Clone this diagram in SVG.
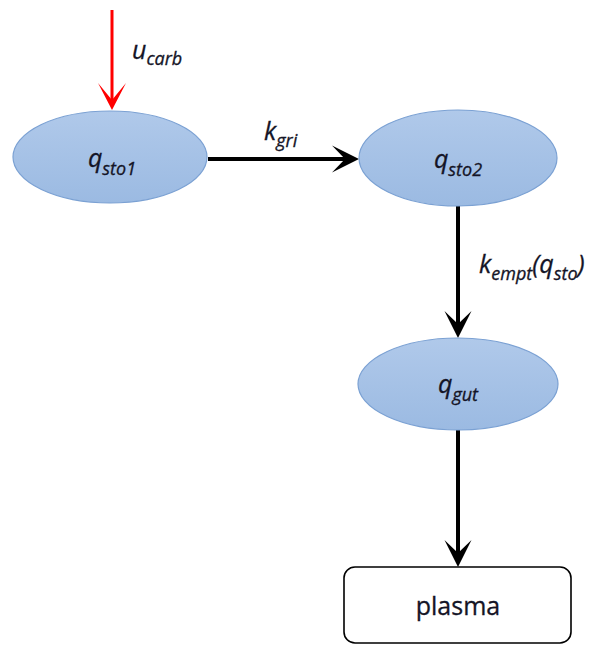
<svg xmlns="http://www.w3.org/2000/svg" width="598" height="646" viewBox="0 0 598 646">
  <defs>
    <linearGradient id="blueFill" x1="0" y1="0" x2="0" y2="1">
      <stop offset="0" stop-color="#b0c9ea"/>
      <stop offset="1" stop-color="#9bbae2"/>
    </linearGradient>
    <!-- notched arrowheads; the line ends at the notch -->
    <marker id="headBlack" markerUnits="userSpaceOnUse" viewBox="-28 -15 30 30" markerWidth="30" markerHeight="30" refX="-14" refY="0" orient="auto" overflow="visible">
      <path d="M0,0 L-27,-13.5 L-14,0 L-27,13.5 Z" fill="#000"/>
    </marker>
    <marker id="headRed" markerUnits="userSpaceOnUse" viewBox="-28 -15 30 30" markerWidth="30" markerHeight="30" refX="-10" refY="0" orient="auto" overflow="visible">
      <path d="M0,0 L-27,-14 L-10,0 L-27,14 Z" fill="#ff0000"/>
    </marker>
  </defs>
  <style>
    .pool { fill: url(#blueFill); stroke: #7ba1d3; stroke-width: 1.2; }
    .box { fill: #fff; stroke: #000; stroke-width: 1.6; }
    .lbl { font-family: "Open Sans", "Liberation Sans", sans-serif; font-style: italic; font-size: 25px; fill: #141426; stroke: #141426; stroke-width: 0.3; }
    .sub { font-size: 18px; }
    .plain { font-family: "Open Sans", "Liberation Sans", sans-serif; font-size: 25px; fill: #141426; stroke: #141426; stroke-width: 0.3; }
    .flow { fill: none; stroke: #000; stroke-width: 4; marker-end: url(#headBlack); }
    .input { fill: none; stroke: #ff0000; stroke-width: 3; marker-end: url(#headRed); }
  </style>

  <g id="connectors">
    <path class="input" d="M112,10 L112,100"/>
    <path class="flow" d="M208,159 L345,159"/>
    <path class="flow" d="M458,206 L458,324"/>
    <path class="flow" d="M458,430 L458,553"/>
    <text class="lbl" x="132" y="59">u<tspan class="sub" dy="6">carb</tspan></text>
    <text class="lbl" x="264" y="140">k<tspan class="sub" dy="7">gri</tspan></text>
    <text class="lbl" x="479" y="273">k<tspan class="sub" dy="7">empt</tspan><tspan dy="-7">(q</tspan><tspan class="sub" dy="7">sto</tspan><tspan dy="-7">)</tspan></text>
  </g>

  <g id="q_sto1">
    <ellipse class="pool" cx="110" cy="157" rx="97" ry="46"/>
    <text class="lbl" x="112" y="167" text-anchor="middle">q<tspan class="sub" dy="8">sto1</tspan></text>
  </g>

  <g id="q_sto2">
    <ellipse class="pool" cx="458" cy="158" rx="99" ry="48"/>
    <text class="lbl" x="458" y="168" text-anchor="middle">q<tspan class="sub" dy="8">sto2</tspan></text>
  </g>

  <g id="q_gut">
    <ellipse class="pool" cx="458" cy="384" rx="100" ry="46"/>
    <text class="lbl" x="458" y="393" text-anchor="middle">q<tspan class="sub" dy="8">gut</tspan></text>
  </g>

  <g id="plasma">
    <rect class="box" x="344" y="567" width="227" height="76" rx="11" ry="11"/>
    <text class="plain" x="458" y="615" text-anchor="middle">plasma</text>
  </g>
</svg>
